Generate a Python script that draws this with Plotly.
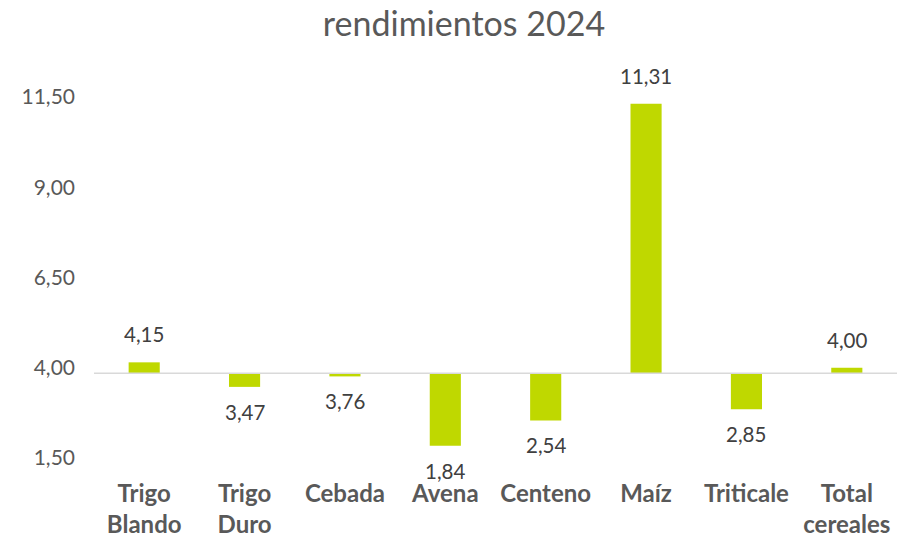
import plotly.graph_objects as go

categories = ["Trigo<br>Blando", "Trigo<br>Duro", "Cebada", "Avena", "Centeno", "Maíz", "Triticale", "Total<br>cereales"]
values = [4.15, 3.47, 3.76, 1.84, 2.54, 11.31, 2.85, 4.00]
value_labels = ["4,15", "3,47", "3,76", "1,84", "2,54", "11,31", "2,85", "4,00"]
base_value = 3.85
tick_values = [1.5, 4.0, 6.5, 9.0, 11.5]
tick_labels = ["1,50", "4,00", "6,50", "9,00", "11,50"]

BAR = "#BFD800"
TXT = "#595959"
FONT = "Lato"

fig = go.Figure()
fig.add_trace(go.Bar(
    x=categories,
    y=[v - base_value for v in values],
    base=base_value,
    marker=dict(color=BAR, line=dict(width=0)),
    hoverinfo="skip",
))

for c, v, lab in zip(categories, values, value_labels):
    up = v >= base_value
    fig.add_annotation(
        x=c, y=v, text=lab, showarrow=False,
        yanchor="bottom" if up else "top",
        yshift=14 if up else -11,
        font=dict(family=FONT, size=20.5, color="#404040"),
    )

fig.add_shape(type="line", xref="paper", x0=0, x1=1, yref="y", y0=base_value, y1=base_value,
              line=dict(color="#D9D9D9", width=1.5), layer="above")

fig.update_layout(
    width=897, height=539,
    margin=dict(l=94, r=0, t=97, b=81, autoexpand=False),
    paper_bgcolor="white", plot_bgcolor="white",
    showlegend=False,
    bargap=0.69,
    title=dict(text="rendimientos 2024", x=464/897, xanchor="center", xref="container",
               y=1 - 24/539, yanchor="middle", yref="container",
               font=dict(family=FONT, size=34, color=TXT)),
    xaxis=dict(showgrid=False, showline=False, zeroline=False, ticks="", automargin=False,
               tickfont=dict(family=FONT, size=24, color=TXT, weight="bold"),
               ticklabelstandoff=19),
    yaxis=dict(range=[1.5, 11.5], showgrid=False, showline=False, zeroline=False, ticks="",
               automargin=False,
               tickmode="array", tickvals=tick_values, ticktext=tick_labels,
               tickfont=dict(family=FONT, size=21, color=TXT),
               ticklabelstandoff=18),
)

fig.write_html("out.html", config={"displayModeBar": False},
               post_script="document.body.style.margin='0';")
